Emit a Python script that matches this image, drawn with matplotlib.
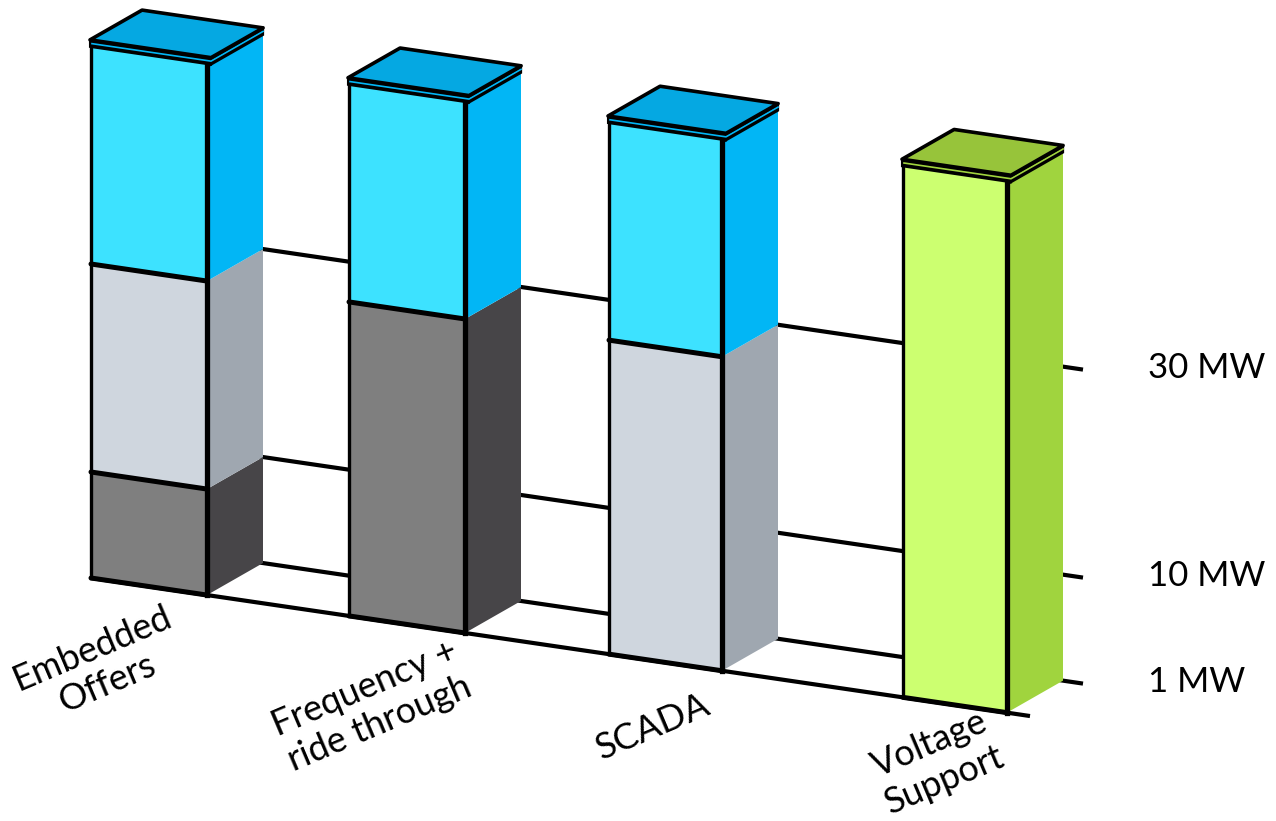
import matplotlib
matplotlib.use("Agg")
import matplotlib.pyplot as plt
from matplotlib.patches import Polygon
import numpy as np

# ---------------- data ----------------
categories = ["Embedded\nOffers", "Frequency +\nride through", "SCADA", "Voltage\nSupport"]
# stacked segments per bar: (from MW, to MW, style)
seg_bottom = [[1, 10, 30], [1, 30], [1, 30], [1]]
seg_top = [[10, 30, 50], [30, 50], [30, 50], [50]]
seg_style = [["dark", "light", "blue"], ["dark", "blue"], ["light", "blue"], ["green"]]
tick_values = [1, 10, 30]
tick_labels = ["1 MW", "10 MW", "30 MW"]

# ---------------- styles / layout ----------------
colors = {
    "blue": ("#3de2ff", "#02b6f5", "#05a8e2"),
    "light": ("#cfd6de", "#9fa7b0", "#b8c0c8"),
    "dark": ("#7f7f7f", "#474548", "#5a5a5a"),
    "green": ("#ccff70", "#a0d43e", "#97c43a"),
}
bar_left = [91, 349, 609, 903]
bar_width = [116, 116, 113, 104]
U0, Y0, SLOPE = 91, 578, 0.147
DX, DY = 56, -32
# value -> pixel height scale anchors (schematic scale of the original)
scale_mw = [1, 10, 30, 50]
scale_px = [0, 106, 314, 531]
LID = 7


def H(v):
    return float(np.interp(v, scale_mw, scale_px))


def P(u, d, h):
    return (u + d * DX, Y0 + SLOPE * (u - U0) + d * DY - h)


fig = plt.figure(figsize=(12.76, 8.21), dpi=100)
ax = fig.add_axes([0, 0, 1, 1])
ax.set_xlim(0, 1276)
ax.set_ylim(821, 0)
ax.axis("off")

LW = 3.0
# back-plane grid lines at tick levels
x_start = bar_left[0]
x_end = bar_left[-1] + bar_width[-1] + 20
for v in tick_values:
    p0 = P(x_start, 1, H(v))
    p1 = P(x_end, 1, H(v))
    ax.plot([p0[0], p1[0]], [p0[1], p1[1]], color="black", lw=LW, solid_capstyle="butt", zorder=1)
# front floor line
p0 = P(bar_left[0], 0, 0)
p1 = P(bar_left[-1] + bar_width[-1] + 23, 0, 0)
ax.plot([p0[0], p1[0]], [p0[1], p1[1]], color="black", lw=LW, solid_capstyle="butt", zorder=1)

# bars
for i in range(len(categories)):
    u0 = bar_left[i]
    u1 = u0 + bar_width[i]
    for b, t, s in zip(seg_bottom[i], seg_top[i], seg_style[i]):
        front, side, top = colors[s]
        hb, ht = H(b), H(t)
        ax.add_patch(Polygon([P(u0, 0, hb), P(u1, 0, hb), P(u1, 0, ht), P(u0, 0, ht)],
                             closed=True, fc=front, ec="none", zorder=2))
        ax.add_patch(Polygon([P(u1, 0, hb), P(u1, 1, hb), P(u1, 1, ht), P(u1, 0, ht)],
                             closed=True, fc=side, ec="none", zorder=2))
        # boundary line on front face
        a, c = P(u0, 0, hb), P(u1, 0, hb)
        ax.plot([a[0], c[0]], [a[1], c[1]], color="black", lw=3.6, solid_capstyle="round", zorder=4)
    # outline of front face
    htop = H(seg_top[i][-1])
    a, c = P(u0, 0, 0), P(u0, 0, htop)
    ax.plot([a[0], c[0]], [a[1], c[1]], color="black", lw=2.4, zorder=4)
    a, c = P(u1, 0, 0), P(u1, 0, htop)
    ax.plot([a[0], c[0]], [a[1], c[1]], color="black", lw=3.8, zorder=4)
    # lid (top slab)
    front, side, top = colors[seg_style[i][-1]]
    ul, ur = u0 - 1, u1 + 4
    lid_front = [P(ul, 0, htop), P(ur, 0, htop), P(ur, 0, htop + LID), P(ul, 0, htop + LID)]
    ax.add_patch(Polygon(lid_front, closed=True, fc="black", ec="black", lw=1.5, zorder=5))
    lid_side = [P(ur, 0, htop), P(ur, 0.93, htop), P(ur, 0.93, htop + LID), P(ur, 0, htop + LID)]
    ax.add_patch(Polygon(lid_side, closed=True, fc="black", ec="black", lw=1.5, zorder=5))
    m0, m1, m2 = P(ul + 2, 0, htop + LID / 2), P(ur, 0, htop + LID / 2), P(ur, 0.93, htop + LID / 2)
    ax.plot([m0[0], m1[0], m2[0]], [m0[1], m1[1], m2[1]], color=side, lw=1.2, zorder=6)
    top_face = [P(ul, 0, htop + LID), P(ur, 0, htop + LID), P(ur, 0.93, htop + LID), P(ul, 0.93, htop + LID)]
    ax.add_patch(Polygon(top_face, closed=True, fc=top, ec="black", lw=2.6, joinstyle="round", zorder=6))

# category labels
label_pos = [(100, 666), (372, 706), (653, 727), (937, 762)]
for name, (x, y) in zip(categories, label_pos):
    ax.text(x, y, name, rotation=23, ha="center", va="center", multialignment="center",
            fontsize=26, family="Lato", linespacing=1.2, zorder=7)

# value labels on the right
for v, lab in zip(tick_values, tick_labels):
    _, y = P(x_end, 1, H(v))
    ax.text(1148, y - 2, lab, ha="left", va="center", fontsize=25, family="Lato", zorder=7)

fig.savefig("out.png", dpi=100)
